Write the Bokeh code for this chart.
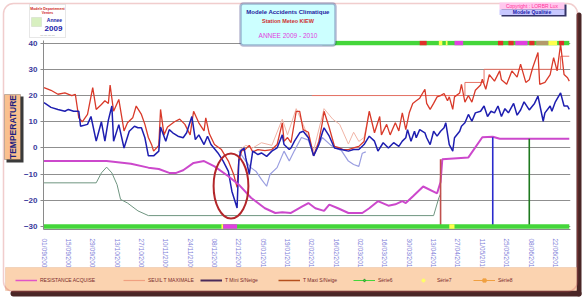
import math
from bokeh.plotting import figure
from bokeh.layouts import column
from bokeh.models import (Range1d, FixedTicker, Legend, LegendItem, Label,
                          BoxAnnotation, ColumnDataSource)
from bokeh.embed import file_html
from bokeh.resources import INLINE

# ---------------- data (day 0 = 01/09/2009) ----------------
tick_days = list(range(0, 295, 14))
tick_labels = ["01/09/2009", "15/09/2009", "29/09/2009", "13/10/2009", "27/10/2009",
               "10/11/2009", "24/11/2009", "08/12/2009", "22/12/2009", "05/01/2010",
               "19/01/2010", "02/02/2010", "16/02/2010", "02/03/2010", "16/03/2010",
               "30/03/2010", "13/04/2010", "27/04/2010", "11/05/2010", "25/05/2010",
               "08/06/2010", "22/06/2010"]
y_ticks = [-30, -20, -10, 0, 10, 20, 30, 40]

tmax_day = [0, 4, 8, 12, 16, 18, 20, 22, 25, 28, 30, 33, 35, 37, 38, 40, 43, 46, 48, 51,
            53, 56, 58, 60, 62, 63, 66, 67, 69, 71, 75, 78, 81, 84, 86, 89, 92, 93, 95, 98,
            102, 106, 109, 111, 112, 114, 115, 118, 120, 123, 127, 131, 134, 137, 138, 140,
            142, 145, 147, 149, 152, 155, 158, 160, 161, 164, 167, 170, 172, 175, 178, 181,
            184, 187, 190, 193, 194, 197, 199, 202, 204, 206, 208, 210, 212, 214, 216, 219,
            220, 222, 224, 226, 228, 230, 232, 233, 235, 236, 239, 240, 242, 244, 246, 248,
            251, 252, 254, 256, 259, 262, 263, 266, 269, 272, 274, 277, 279, 281, 284, 285,
            288, 291, 293, 295, 297, 299, 301, 302]
tmax_val = [23, 22, 20.5, 21, 20, 20.5, 11.5, 10, 12.8, 23, 14.7, 16.6, 18, 17, 24, 14, 18.5,
            6.5, 9.6, 11.5, 16, 12.8, 9, 4, 1, -1.2, 1, 14.7, 5, 8, 10, 11, 9, 5, 14, 9.6,
            6.5, 11.5, 5.5, 1.3, -0.6, -5, -10, -15, -4.4, -0.6, -1, 1, -1.5, -0.6, -1, -0.6,
            1.3, 9.6, 2.5, 4, 2, 14, 14, 7, 6, -3, 2.5, 9.6, 14, 7.7, 0.6, 0, -0.6, -0.6, 0,
            0.6, 2.5, 14, 5.8, 12, 5, 9, 5, 9.6, 6.5, 13.4, 7, 13.4, 17, 18, 19, 22.4, 17,
            14.7, 17, 19.5, 20, 20.8, 18, 19.5, 14.7, 19.5, 21, 24.3, 17.5, 20, 17.5, 22, 24,
            26.2, 22.4, 28, 25.5, 29.4, 26, 24.3, 29.4, 27, 32, 25, 26, 30.7, 36.4, 24.3, 25,
            28, 34.5, 29.4, 39.6, 28, 26.8, 25.5]

tmin_day = [0, 4, 8, 12, 14, 17, 20, 21, 25, 27, 30, 33, 35, 37, 39, 40, 43, 46, 49, 52,
            54, 56, 58, 60, 63, 66, 67, 70, 72, 74, 77, 80, 82, 85, 87, 89, 92, 94, 96, 100,
            103, 106, 108, 111, 112, 113, 115, 116, 118, 120, 123, 125, 128, 131, 134, 137,
            138, 141, 142, 144, 147, 149, 152, 155, 158, 160, 161, 164, 167, 171, 175, 178,
            181, 184, 187, 190, 192, 195, 198, 201, 204, 206, 208, 209, 211, 213, 214, 216,
            219, 220, 222, 224, 226, 228, 230, 231, 233, 235, 236, 239, 240, 242, 244, 246,
            248, 251, 253, 255, 257, 259, 261, 263, 265, 267, 270, 272, 274, 276, 279, 282,
            284, 287, 288, 291, 292, 294, 297, 299, 301, 302]
tmin_val = [17.3, 15.5, 14.7, 14, 14.7, 14, 14, 8.3, 9, 12, 2.6, 10, 2.6, 10.6, 16, 2.6,
            8.9, 0, 6.4, 8.3, 7.7, 7.7, 3.9, -3, -3, -1.2, 8, 2.6, 7, 5.8, 4.5, 3.9, 5.8, 12,
            3.2, 5, 1.3, 4.5, 1.3, -1.9, -5, -8.9, -16.5, -22.9, -5, -1.2, 0, -3.8, -10, -1.2,
            -2.5, -1.9, -3.2, -1.2, 0, 5, 1.3, -0.6, 0, 2.6, 5.8, 6.4, 3.9, -3, 1.3, 5.8, 7.7,
            4.5, 0, -0.6, -1.2, -0.6, -0.6, 1.3, 4.5, 2.6, -1.2, 2, 0, 2, 0.6, 2.6, 3.9, 7,
            2.6, 6.4, 3.9, 7, 5.8, 3.9, 1.3, 6.4, 4.5, 6.4, 7.7, 9.6, 1.3, -1.2, 3.9, 6.4,
            8.3, 9.6, 12.8, 10.2, 13.4, 14, 16, 12, 14, 13.4, 16, 12, 15, 13.4, 17, 12.5,
            14.5, 17.6, 14.5, 17, 19.8, 10.2, 13.4, 16, 14, 17.6, 21, 16, 16, 14.7]

tmin_brut_day = [112, 116, 119, 122, 125, 128, 130, 134, 138, 141, 144, 148, 152, 155, 160,
                 165, 171, 175, 178, 181, 183, 185]
tmin_brut_val = [-1.2, -5, -7.5, -9, -12, -14.6, -10, -7.5, -1.2, -5, -1, 4, 3, -3, 4, 1,
                 -1, -5, -6.3, -7, -2, -1.5]
tmax_brut_day = [112, 116, 120, 125, 131, 137, 140, 145, 149, 155, 161, 166, 170, 175, 178,
                 181, 184, 187]
tmax_brut_val = [-1, 1, 0, 2, 1, 11, 5, 15, 9, -1, 15, 11, 9, 1.5, 6, 2.5, 4, 14]

resist_day = [0, 36, 50, 60, 66, 72, 76, 80, 86, 92, 98, 106, 112, 119, 127, 133, 137, 142,
              148, 152, 156, 161, 164, 169, 175, 183, 187, 192, 198, 202, 206, 208, 212,
              218, 226, 228, 229, 244, 252, 258, 262, 302]
resist_val = [-5, -5, -6, -7.5, -8, -9.5, -9.5, -8.5, -5.7, -5, -7, -10.8, -14, -19, -23,
              -24.8, -24.5, -24.8, -22.5, -21, -23, -24, -21.6, -23, -24.8, -24.8, -23,
              -20.3, -22, -21.5, -20.3, -21, -18.5, -14.7, -17.3, -13, -4.3, -3.6, 4.1,
              4.3, 3.5, 3.5]

gel_day = [0, 30, 33, 36, 39, 42, 44, 48, 54, 60, 224, 227, 228]
gel_val = [-13.3, -13.3, -9.5, -7.3, -9.5, -14, -19.6, -21, -24, -25.8, -25.8, -19, -17.5]

seuil_day = [154, 242, 253, 297, 302]
seuil_val = [20, 25, 30, 35, 35]

event_day = [228, 258, 279]
event_top = [-4.3, 4.1, 3.5]

band_floor = -30
band_ceiling = 40
bottom_span = [0, 302]
top_span = [160, 302]
bottom_start = [102, 103, 233]
bottom_end = [103, 111, 236]
bottom_state = ["jaune", "magenta", "jaune"]
top_start = [216, 227, 231, 236, 261, 267, 271, 279, 283, 290, 296]
top_end = [220, 229, 232, 241, 264, 270, 278, 282, 290, 295, 299]
top_state = ["rouge", "jaune", "jaune", "magenta", "rouge", "rouge", "magenta", "rouge",
             "olive", "jaune", "rouge"]

highlight_x = [107.5]
highlight_y = [-14.5]
highlight_w = [20]
highlight_h = [24.8]

legend_labels = ["RESISTANCE ACQUISE", "SEUIL T MAXIMALE", "T Mini S/Neige", "T Maxi S/Neige",
                 "Série6", "Série7", "Série8"]

# ---------------- styles ----------------
state_color = {"jaune": "#ffff4d", "magenta": "#e040e0", "rouge": "#e0302a", "olive": "#b39a6a"}
GREEN = "#44d63a"
RED = "#d93a2a"
BLUE = "#1e1eb0"
MAGENTA = "#cc48cc"
FONT = "Liberation Sans"
W, H = 584, 300

# ---------------- main chart ----------------
p = figure(width=W, height=H, x_range=Range1d(-0.3, 302.7), y_range=Range1d(-31.1, 41.0),
           output_backend="svg", toolbar_location=None,
           min_border_left=43, min_border_right=14, min_border_top=40, min_border_bottom=71,
           background_fill_color="white", border_fill_color="white", outline_line_color=None)
p.frame_align = False

p.xgrid.visible = False
p.ygrid.grid_line_color = "#8f8f8f"
p.ygrid.grid_line_width = 1
p.yaxis.ticker = FixedTicker(ticks=y_ticks)
p.yaxis.major_label_text_font = FONT
p.yaxis.major_label_text_font_style = "bold"
p.yaxis.major_label_text_font_size = "8px"
p.yaxis.major_label_text_color = "#3a3a9c"
p.yaxis.axis_line_color = "#8a8a8a"
p.yaxis.major_tick_line_color = "#8a8a8a"
p.yaxis.major_tick_out = 3
p.yaxis.major_tick_in = 0
p.yaxis.minor_tick_line_color = None
p.yaxis.major_label_standoff = 3

p.xaxis.ticker = FixedTicker(ticks=tick_days)
p.xaxis.major_label_overrides = {d: s for d, s in zip(tick_days, tick_labels)}
p.xaxis.major_label_orientation = "vertical"
p.xaxis.major_label_text_font = FONT
p.xaxis.major_label_text_font_size = "6.5px"
p.xaxis.major_label_text_color = "#8080d8"
p.xaxis.axis_line_color = "#8a8a8a"
p.xaxis.major_tick_line_color = None
p.xaxis.minor_tick_line_color = None
p.xaxis.major_label_standoff = 3

p.line(gel_day, gel_val, line_color="#6f9580", line_width=1)
p.line(tmax_brut_day, tmax_brut_val, line_color="#f0b4a6", line_width=1)
p.line(tmin_brut_day, tmin_brut_val, line_color="#9a9ee0", line_width=1.2)
p.step(seuil_day, seuil_val, mode="after", line_color="#e87466", line_width=1)
p.line(tmax_day, tmax_val, line_color=RED, line_width=1.3)
p.line(tmin_day, tmin_val, line_color=BLUE, line_width=1.5)
p.line(resist_day, resist_val, line_color=MAGENTA, line_width=2)

ev_colors = ["#c0504d", "#2a2acc", "#1f7a1f"]
p.segment(x0=event_day, y0=[band_floor] * len(event_day), x1=event_day, y1=event_top,
          line_color=ev_colors, line_width=1.6)

p.line(bottom_span, [band_floor] * 2, line_color=GREEN, line_width=4.5)
p.line(top_span, [band_ceiling] * 2, line_color=GREEN, line_width=4.5)
p.segment(x0=bottom_start, y0=[band_floor] * len(bottom_start), x1=bottom_end,
          y1=[band_floor] * len(bottom_start), line_color=[state_color[s] for s in bottom_state],
          line_width=4.5)
p.segment(x0=top_start, y0=[band_ceiling] * len(top_start), x1=top_end,
          y1=[band_ceiling] * len(top_start), line_color=[state_color[s] for s in top_state],
          line_width=4.5)

p.ellipse(x=highlight_x, y=highlight_y, width=highlight_w, height=highlight_h,
          fill_color=None, line_color="#b3262a", line_width=2)

# ---------------- decoration overlay (frame = whole canvas, pixel units) ----------------
d = figure(width=W, height=H, x_range=Range1d(0, W), y_range=Range1d(H, 0),
           output_backend="svg", toolbar_location=None, x_axis_location=None,
           y_axis_location=None, min_border=0, min_border_left=0, min_border_right=0,
           min_border_top=0, min_border_bottom=0,
           background_fill_alpha=0, border_fill_alpha=0, outline_line_color=None)
d.frame_align = False
d.grid.visible = False
d.styles = {"margin-top": f"-{H}px"}


def box(l, r, t, b, fill, line=None, lw=1, radius=0, fill_alpha=1.0):
    bx = BoxAnnotation(left=l, right=r, top=t, bottom=b, left_units="canvas", right_units="canvas",
                       top_units="canvas", bottom_units="canvas", fill_color=fill,
                       fill_alpha=fill_alpha, line_color=line, line_width=lw, border_radius=radius)
    d.add_layout(bx)


def label(x, y, text, size, color, style="normal", angle=0, align="center"):
    d.add_layout(Label(x=x, y=y, x_units="canvas", y_units="canvas", text=text, text_font=FONT,
                       text_font_size=size, text_color=color, text_font_style=style, angle=angle,
                       text_align=align, text_baseline="middle"))


# shadow + legend band + outer frame
box(10, 581, 290, 296, "#4a2626", None, 0, 4)
box(576, 581, 12, 296, "#4a2626", None, 0, 3)
box(5, 576, 267, 290, "#fbd3b0", "#d9a27a", 1, 0)
box(3, 577, 3, 291, None, "#d0585a", 1.5, 10, 0.0)

# legend (one block per entry, placed like the reference); the swatch renderers
# hold one point placed off the canvas so that only their legend glyph shows
off = ColumnDataSource(data=dict(x=[-100], y=[-100]))
lr_res = [d.line("x", "y", source=off, line_color="#e055c8", line_width=1.5)]
lr_seu = [d.line("x", "y", source=off, line_color="#f0a080", line_width=1.2)]
lr_min = [d.line("x", "y", source=off, line_color="#4a2a5a", line_width=2)]
lr_max = [d.line("x", "y", source=off, line_color="#b5501e", line_width=1.5)]
lr_s6 = [d.line("x", "y", source=off, line_color=GREEN, line_width=1),
         d.scatter("x", "y", source=off, marker="diamond", size=6, fill_color=GREEN,
                   line_color="#2a9a2a")]
lr_s7 = [d.scatter("x", "y", source=off, marker="circle", size=8, fill_color="#ffff66",
                   line_color="#ffff66")]
lr_s8 = [d.line("x", "y", source=off, line_color="#f0a040", line_width=1),
         d.scatter("x", "y", source=off, marker="square", size=4, fill_color="#f0a040",
                   line_color="#f0a040")]
legend_rends = [lr_res, lr_seu, lr_min, lr_max, lr_s6, lr_s7, lr_s8]
legend_x = [15, 123, 200, 278, 353, 412, 473]
for text, rs, vx in zip(legend_labels, legend_rends, legend_x):
    lg = Legend(items=[LegendItem(label=text, renderers=rs)], location=(vx, 16),
                orientation="horizontal", background_fill_alpha=0, border_line_color=None,
                padding=0, margin=0, spacing=0, glyph_width=22, glyph_height=8,
                label_standoff=3, label_height=8, label_width=10,
                label_text_font=FONT, label_text_font_size="5px", label_text_color="#7a2a2a")
    d.add_layout(lg)

# y axis title
box(6, 23, 96, 162, "#3a3a3a", None, 0, 0)
box(4, 20, 94, 159, "#fac08e", "#3a3a3a", 1, 0)
label(12.5, 126.5, "TEMPERATURE", "8.5px", "#1f1f80", "bold", math.pi / 2)

# title box
box(240, 335, 3, 45, "#ccffff", "#1c1c6c", 2.5, 3)
label(287.5, 11, "Modele Accidents Climatique", "6px", "#2424a0", "bold")
label(287.5, 20, "Station Meteo KIEW", "5.5px", "#cc3030", "bold")
label(287.5, 35, "ANNEE 2009 - 2010", "6.5px", "#e040e0")

# copyright box
box(501, 566, 4, 16, "#333366", None, 0, 0)
box(499, 564, 2, 9, "#ffc8ee", None, 0, 0)
box(499, 564, 9, 14.5, "#c8c8ff", None, 0, 0)
label(531.5, 5.8, "Copyright : LORBR Lux", "5px", "#ff3399")
label(531.5, 11.8, "Modele Qualitée", "5px", "#2222aa", "bold")

# logo
box(29, 65, 4, 37, "white", "#b0b0b0", 1, 0)
label(47, 8, "Modele Departement", "3.5px", "#cc2222", "bold")
label(47, 12.5, "Ventes", "3.5px", "#cc2222", "bold")
box(31, 41, 17, 26, "#d8f0c0", "#909090", 0.5, 0)
label(54, 19, "Annee", "5px", "#2222aa", "bold")
label(53, 28, "2009", "8px", "#2222aa", "bold")
label(47, 34, "— — — —", "3px", "#666666")

layout = column(p, d, spacing=0)
open("out.html", "w").write(file_html(layout, INLINE))
